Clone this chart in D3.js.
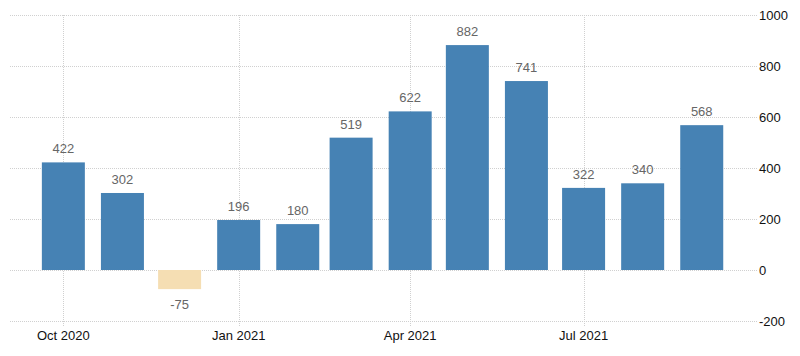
<!DOCTYPE html>
<html><head><meta charset="utf-8">
<script src="https://cdn.jsdelivr.net/npm/d3@7"></script>
<style>body{margin:0;background:#fff}svg{display:block}</style>
</head><body>
<script>
const months = ["2020-10-01","2020-11-01","2020-12-01","2021-01-01","2021-02-01","2021-03-01","2021-04-01","2021-05-01","2021-06-01","2021-07-01","2021-08-01","2021-09-01"];
const values = [422, 302, -75, 196, 180, 519, 622, 882, 741, 322, 340, 568];
const yTicks = [-200, 0, 200, 400, 600, 800, 1000];
const xTickDates = ["2020-10-01","2021-01-01","2021-04-01","2021-07-01"];
const xTickLabels = ["Oct 2020","Jan 2021","Apr 2021","Jul 2021"];

const W = 800, H = 356;
const svg = d3.select("body").append("svg").attr("width", W).attr("height", H);
const parse = d3.utcParse("%Y-%m-%d");
const x = d3.scaleUtc().domain([parse("2020-09-03"), parse("2021-09-30")]).range([10, 757]);
const y = d3.scaleLinear().domain([-200, 1000]).range([321, 15]);
const barW = 43;

// horizontal grid
svg.append("g").selectAll("line").data(yTicks).join("line")
  .attr("x1", 10).attr("x2", 757)
  .attr("y1", d => Math.round(y(d)) + 0.5).attr("y2", d => Math.round(y(d)) + 0.5)
  .attr("stroke", "#d0d0d0").attr("stroke-dasharray", "1,1");
// vertical grid
svg.append("g").selectAll("line").data(xTickDates).join("line")
  .attr("x1", d => Math.round(x(parse(d))) + 0.5).attr("x2", d => Math.round(x(parse(d))) + 0.5)
  .attr("y1", 15).attr("y2", 326)
  .attr("stroke", "#d0d0d0").attr("stroke-dasharray", "1,1");

// bars
svg.append("g").selectAll("rect").data(values).join("rect")
  .attr("x", (d, i) => x(parse(months[i])) - barW / 2)
  .attr("width", barW)
  .attr("y", d => y(Math.max(0, d)))
  .attr("height", d => Math.abs(y(d) - y(0)))
  .attr("fill", d => d < 0 ? "#F5DEB3" : "#4682B4");

// value labels
svg.append("g").selectAll("text").data(values).join("text")
  .attr("x", (d, i) => x(parse(months[i])))
  .attr("y", d => d < 0 ? y(d) + 20 : y(d) - 9)
  .attr("text-anchor", "middle")
  .attr("font-family", "Arial, 'Liberation Sans', sans-serif")
  .attr("font-size", 13).attr("fill", "#666")
  .text(d => d);

// y axis labels
svg.append("g").selectAll("text").data(yTicks).join("text")
  .attr("x", 759).attr("y", d => y(d) + 5)
  .attr("font-family", "Arial, 'Liberation Sans', sans-serif")
  .attr("font-size", 13).attr("fill", "#111")
  .text(d => d);

// x axis labels
svg.append("g").selectAll("text").data(xTickDates).join("text")
  .attr("x", d => x(parse(d))).attr("y", 340)
  .attr("text-anchor", "middle")
  .attr("font-family", "Arial, 'Liberation Sans', sans-serif")
  .attr("font-size", 13).attr("fill", "#111")
  .text((d, i) => xTickLabels[i]);
</script>
</body></html>
